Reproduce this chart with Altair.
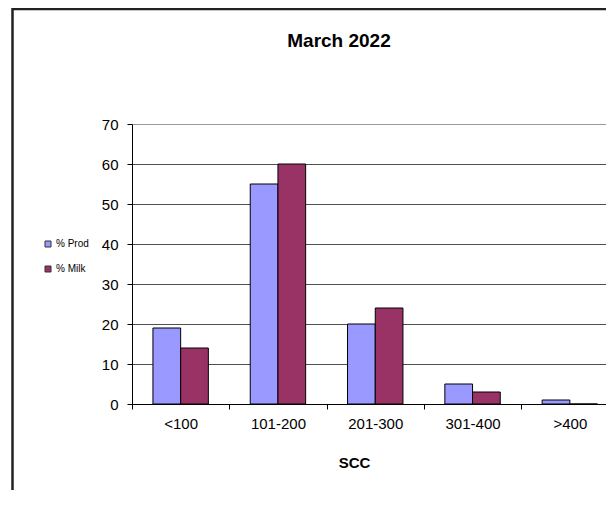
import altair as alt
import pandas as pd

categories = ["<100", "101-200", "201-300", "301-400", ">400"]
series = ["% Prod", "% Milk"]
prod = [19, 55, 20, 5, 1]
milk = [14, 60, 24, 3, 0]
colors = ["#9999FF", "#993366"]
y_ticks = [0, 10, 20, 30, 40, 50, 60, 70]
titles = ["March 2022"]

rows = []
for i, c in enumerate(categories):
    rows.append({"SCC": c, "series": series[0], "value": prod[i]})
    rows.append({"SCC": c, "series": series[1], "value": milk[i]})
df = pd.DataFrame(rows)

W = 474
H = 280
FONT = "Liberation Sans"

frame = alt.Chart(pd.DataFrame({"k": [0]})).mark_rect(
    fillOpacity=0, stroke="#222222", strokeWidth=2.5, clip=False
).encode(
    x=alt.value(-119.5), x2=alt.value(W + 60),
    y=alt.value(-115), y2=alt.value(H + 120)
)

title = alt.Chart(pd.DataFrame({"t": titles})).mark_text(
    font=FONT, fontSize=19, fontWeight="bold", color="black",
    align="center", baseline="alphabetic", clip=False
).encode(
    text="t:N", x=alt.value(207), y=alt.value(-77)
)

bars = alt.Chart(df).mark_bar(stroke="black", strokeWidth=1).encode(
    x=alt.X(
        "SCC:N", sort=categories,
        scale=alt.Scale(range=[0, 486.5], paddingInner=0, paddingOuter=0),
        axis=alt.Axis(
            title="SCC", titleFont=FONT, titleFontSize=15, titleFontWeight="bold",
            titleColor="black", titleX=222, titleY=63, titleBaseline="alphabetic",
            labelFont=FONT, labelFontSize=15, labelColor="black", labelAngle=0,
            labelPadding=7, tickBand="extent", tickSize=5, tickColor="black",
            domainColor="black", domainWidth=1, grid=False
        ),
    ),
    xOffset=alt.XOffset(
        "series:N", sort=series,
        scale=alt.Scale(domain=series, paddingInner=0, paddingOuter=0.756)
    ),
    y=alt.Y(
        "value:Q",
        scale=alt.Scale(domain=[0, 70], nice=False),
        axis=alt.Axis(
            title=None, values=y_ticks, labelFont=FONT, labelFontSize=15,
            labelColor="black", labelPadding=9, tickSize=5, tickColor="black",
            domainColor="black", domainWidth=1,
            grid=True, gridWidth=1,
            gridColor={"condition": {"test": "datum.value === 70", "value": "#999999"},
                       "value": "#505050"},
        ),
    ),
    color=alt.Color(
        "series:N", sort=series,
        scale=alt.Scale(domain=series, range=colors),
        legend=alt.Legend(
            title=None, orient="none", legendX=-89, legendY=115,
            symbolType="square", symbolSize=36, symbolStrokeColor="#333333",
            symbolStrokeWidth=1, labelFont=FONT, labelFontSize=10,
            labelColor="black", labelOffset=3, rowPadding=15, padding=0
        ),
    ),
)

chart = alt.layer(frame, title, bars).properties(
    width=W, height=H,
    autosize=alt.AutoSizeParams(type="none"),
    padding={"left": 124, "top": 116, "right": 0, "bottom": 86},
).configure_view(fill="#C0C0C0", stroke="transparent").configure(background="white")

chart.save("out.html", embed_options={"renderer": "svg", "actions": False})
